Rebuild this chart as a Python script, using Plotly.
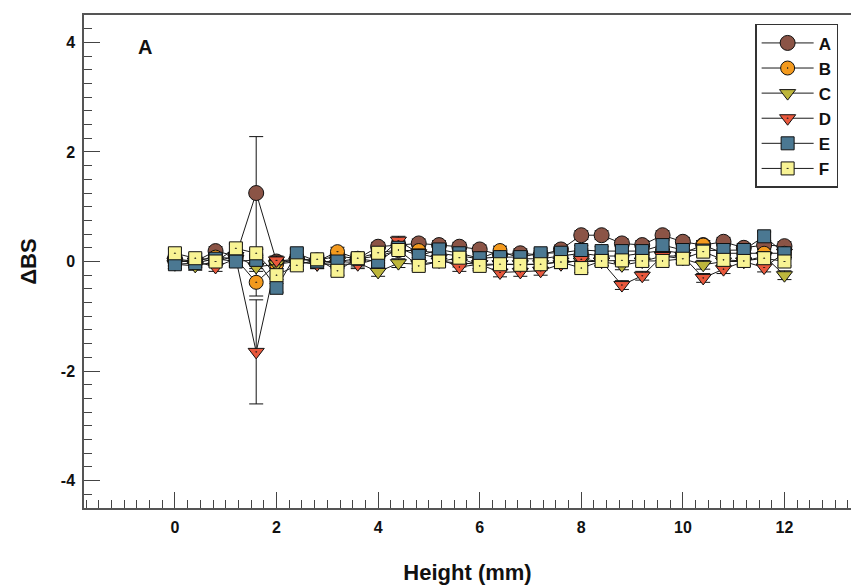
import plotly.graph_objects as go

heights = [0.0, 0.4, 0.8, 1.2, 1.6, 2.0, 2.4, 2.8, 3.2, 3.6, 4.0, 4.4, 4.8, 5.2, 5.6, 6.0,
           6.4, 6.8, 7.2, 7.6, 8.0, 8.4, 8.8, 9.2, 9.6, 10.0, 10.4, 10.8, 11.2, 11.6, 12.0]

series_names = ["A", "B", "C", "D", "E", "F"]

A_vals = [0.05, 0.00, 0.19, 0.10, 1.25, 0.00, 0.05, 0.02, 0.10, 0.05, 0.27, 0.30, 0.33, 0.30, 0.27, 0.22,
          0.12, 0.15, 0.12, 0.22, 0.48, 0.48, 0.33, 0.30, 0.48, 0.36, 0.30, 0.36, 0.25, 0.30, 0.28]
B_vals = [0.00, 0.02, 0.08, 0.05, -0.38, -0.05, 0.05, 0.00, 0.18, 0.05, 0.10, 0.20, 0.20, 0.15, 0.10, 0.05,
          0.20, 0.05, 0.05, 0.10, 0.15, 0.10, 0.10, 0.15, 0.20, 0.15, 0.30, 0.15, 0.15, 0.15, 0.15]
C_vals = [-0.05, -0.08, 0.00, 0.10, -0.10, -0.05, 0.00, -0.05, 0.00, -0.02, -0.19, -0.03, -0.05, 0.00, -0.02, -0.05,
          -0.05, -0.05, -0.05, 0.00, 0.00, 0.00, -0.07, 0.00, 0.10, 0.05, -0.06, 0.00, 0.00, 0.10, -0.25]
D_vals = [0.00, 0.00, -0.10, 0.05, -1.65, 0.02, 0.00, -0.05, -0.05, -0.05, 0.05, 0.38, 0.15, 0.05, -0.10, -0.05,
          -0.20, -0.19, -0.17, -0.05, 0.04, 0.00, -0.43, -0.26, 0.10, 0.10, -0.30, -0.14, 0.00, -0.11, 0.16]
E_vals = [-0.05, -0.03, 0.05, 0.00, 0.03, -0.48, 0.15, 0.00, 0.00, 0.05, 0.00, 0.25, 0.10, 0.22, 0.15, 0.06,
          0.08, 0.08, 0.15, 0.16, 0.21, 0.19, 0.19, 0.19, 0.30, 0.21, 0.20, 0.21, 0.21, 0.46, 0.15]
F_vals = [0.15, 0.06, 0.00, 0.24, 0.15, -0.25, -0.07, 0.04, -0.17, 0.06, 0.16, 0.21, -0.08, 0.00, 0.07, -0.08,
          -0.05, -0.06, -0.05, -0.01, -0.12, 0.01, 0.02, 0.01, 0.01, 0.05, 0.18, 0.03, 0.01, 0.06, 0.00]

A_err = [0.08] * 4 + [1.03] + [0.08] * 26
B_err = [0.08] * 4 + [0.25] + [0.08] * 26
C_err = [0.08] * 31
D_err = [0.08] * 4 + [0.95] + [0.08] * 26
E_err = [0.08] * 31
F_err = [0.08] * 31

x_tickvals = [0, 2, 4, 6, 8, 10, 12]
x_ticktext = ["0", "2", "4", "6", "8", "10", "12"]
y_tickvals = [-4, -2, 0, 2, 4]
y_ticktext = ["-4", "-2", "0", "2", "4"]

values = [A_vals, B_vals, C_vals, D_vals, E_vals, F_vals]
errors = [A_err, B_err, C_err, D_err, E_err, F_err]
colors = ["#8B5446", "#F39A1E", "#BDB63C", "#E9583C", "#4B7892", "#F8F394"]
symbols = ["circle", "circle-dot", "triangle-down", "triangle-down-dot", "square", "square-dot"]
sizes = [15, 14, 14, 14, 13, 13]

FONT = "Liberation Sans, Arial, sans-serif"

fig = go.Figure()
for name, v, e, c, s, sz in zip(series_names, values, errors, colors, symbols, sizes):
    fig.add_trace(go.Scatter(
        x=heights, y=v, name=name, mode="lines+markers",
        line=dict(color="#1a1a1a", width=1),
        marker=dict(symbol=s, size=sz, color=c, line=dict(color="#111111", width=1)),
        error_y=dict(type="data", array=e, visible=True, color="#111111", thickness=1, width=7),
    ))

axis_font = dict(family=FONT, size=16, color="#111111", weight="bold")

fig.update_layout(
    width=851, height=587,
    margin=dict(l=84, r=0, t=15, b=79, autoexpand=False),
    paper_bgcolor="white", plot_bgcolor="white",
    showlegend=True,
    legend=dict(
        x=0.875, y=0.982, xanchor="left", yanchor="top",
        bgcolor="white", bordercolor="#333333", borderwidth=1.5,
        font=dict(family=FONT, size=17, color="#111111", weight="bold"),
        itemwidth=52,
    ),
    xaxis=dict(
        range=[-1.79, 13.31], tickmode="array", tickvals=x_tickvals, ticktext=x_ticktext,
        showgrid=False, zeroline=False, automargin=False,
        showline=True, linecolor="#555555", linewidth=1.5, mirror=True,
        ticks="inside", ticklen=16, tickcolor="#444444", tickwidth=1,
        tickfont=axis_font, ticklabelstandoff=4,
        minor=dict(dtick=0.25, tick0=0, ticks="inside", ticklen=8, tickcolor="#444444", tickwidth=1),
        title=dict(text="Height (mm)", font=dict(family=FONT, size=22, color="#111111", weight="bold"),
                   standoff=30),
    ),
    yaxis=dict(
        range=[-4.5, 4.5], tickmode="array", tickvals=y_tickvals, ticktext=y_ticktext,
        showgrid=False, zeroline=False, automargin=False,
        showline=True, linecolor="#555555", linewidth=1.5, mirror=False,
        ticks="inside", ticklen=16, tickcolor="#444444", tickwidth=1,
        tickfont=axis_font, ticklabelstandoff=4,
        minor=dict(dtick=0.25, tick0=0, ticks="inside", ticklen=8, tickcolor="#444444", tickwidth=1),
        title=dict(text="ΔBS", font=dict(family=FONT, size=22, color="#111111", weight="bold"),
                   standoff=18),
    ),
    annotations=[dict(text="A", x=0.0795, y=0.935, xref="paper", yref="paper", showarrow=False,
                      xanchor="center", yanchor="middle",
                      font=dict(family=FONT, size=20, color="#111111", weight="bold"))],
)

fig.write_html("out.html", config={"displayModeBar": False},
               post_script="document.body.style.margin='0px';")
